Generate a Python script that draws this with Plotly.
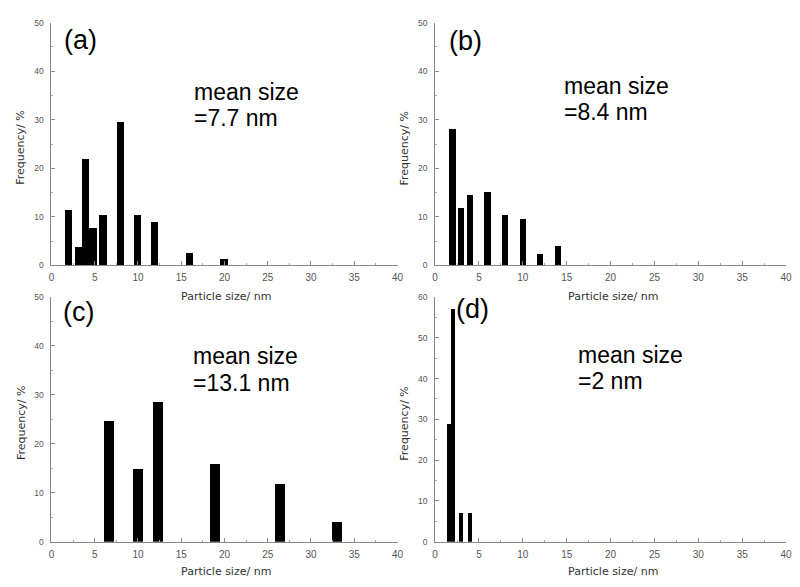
import plotly.graph_objects as go

W, H = 800, 587

# ---- data ----
a_x = [2, 3.25, 4.85, 4, 6, 8, 10, 12, 16, 20]
a_y = [11.5, 3.9, 7.8, 21.9, 10.4, 29.6, 10.4, 9.0, 2.6, 1.35]
b_x = [2, 3, 4, 6, 8, 10, 12, 14]
b_y = [28.1, 12.0, 14.5, 15.3, 10.5, 9.7, 2.4, 4.0]
c_x = [6.65, 10.08, 12.4, 19, 26.5, 33.1]
c_y = [24.6, 14.8, 28.5, 15.8, 11.8, 4.1]
d_x = [1.62, 2.03, 3, 4]
d_y = [28.8, 57, 7.0, 7.0]

panel_labels = ["(a)", "(b)", "(c)", "(d)"]
mean_texts = ["=7.7 nm", "=8.4 nm", "=13.1 nm", "=2 nm"]
x_title = "Particle size/ nm"
y_title = "Frequency/ %"

# ---- layout helpers ----
def px(x):
    return x / W

def py(y):
    return 1 - y / H

# plot boxes in pixels: (left, right, top, bottom)
boxes = [(49, 399, 18, 265), (437, 792, 18, 265), (49, 399, 297, 546), (437, 792, 297, 546)]
ymax = [50, 50, 50, 60]
widths = [0.84, 0.72, 1.15, 0.42]
series = [(a_x, a_y), (b_x, b_y), (c_x, c_y), (d_x, d_y)]

fig = go.Figure()
layout = dict(width=W, height=H, margin=dict(l=0, r=0, t=0, b=0),
              paper_bgcolor="white", plot_bgcolor="white", showlegend=False,
              bargap=0)

tickfont_x = dict(family="Liberation Sans, Arial", size=10, color="#555")
tickfont_y = dict(family="Liberation Sans, Arial", size=8.5, color="#555")

for i, ((xs, ys), (l, r, t, b)) in enumerate(zip(series, boxes)):
    n = "" if i == 0 else str(i + 1)
    fig.add_trace(go.Bar(x=xs, y=ys, width=widths[i], marker=dict(color="black", line=dict(width=0)),
                         xaxis="x" + n, yaxis="y" + n))
    layout["xaxis" + n] = dict(domain=[px(l), px(r)], anchor="y" + n, range=[0, 40],
                               tickmode="linear", tick0=0, dtick=5,
                               ticks="inside", ticklen=4, tickcolor="#888",
                               minor=dict(ticks="inside", ticklen=2, dtick=2.5, tickcolor="#aaa"),
                               showline=True, linecolor="#888", linewidth=1,
                               showgrid=False, zeroline=False, tickfont=tickfont_x,
                               ticklabelstandoff=3, fixedrange=True)
    layout["yaxis" + n] = dict(domain=[py(b), py(t)], anchor="x" + n, range=[0, ymax[i]],
                               tickmode="linear", tick0=0, dtick=10,
                               ticks="inside", ticklen=4, tickcolor="#888",
                               minor=dict(ticks="inside", ticklen=2, dtick=5, tickcolor="#aaa"),
                               showline=True, linecolor="#888", linewidth=1,
                               showgrid=False, zeroline=False, tickfont=tickfont_y,
                               ticklabelstandoff=5, fixedrange=True)

anns = []
# panel labels
label_pos = [(78, 35.5), (467.5, 37), (76, 312), (475, 309)]
for txt, (x, y) in zip(panel_labels, label_pos):
    anns.append(dict(text=txt, x=px(x), y=py(y), xref="paper", yref="paper",
                     xanchor="center", yanchor="middle", showarrow=False,
                     font=dict(family="Liberation Sans, Arial", size=27, color="black")))

# mean size texts (two lines each)
mean_pos = [(192, 89, 115), (566, 82.5, 108.5), (191, 357, 385), (581, 356.5, 382.5)]
for txt, (x, y1, y2) in zip(mean_texts, mean_pos):
    for t_, yy in (("mean size", y1), (txt, y2)):
        anns.append(dict(text=t_, x=px(x), y=py(yy), xref="paper", yref="paper",
                         xanchor="left", yanchor="middle", showarrow=False, borderpad=0,
                         font=dict(family="Liberation Sans, Arial", size=23, color="black")))

# axis titles
for (l, r, t, b), (xt, yt) in zip(boxes, [(17, 297), (406, 297), (18, 576), (406, 576)]):
    anns.append(dict(text=x_title, x=px((l + r) / 2 + 2), y=py(yt), xref="paper", yref="paper",
                     xanchor="center", yanchor="middle", showarrow=False,
                     font=dict(family="DejaVu Sans", size=11, color="#333")))
    anns.append(dict(text=y_title, x=px(xt), y=py((t + b) / 2 + 4), xref="paper", yref="paper",
                     xanchor="center", yanchor="middle", showarrow=False, textangle=-90,
                     font=dict(family="DejaVu Sans", size=11, color="#333")))

layout["annotations"] = anns
fig.update_layout(**layout)
fig.write_html("out.html")
